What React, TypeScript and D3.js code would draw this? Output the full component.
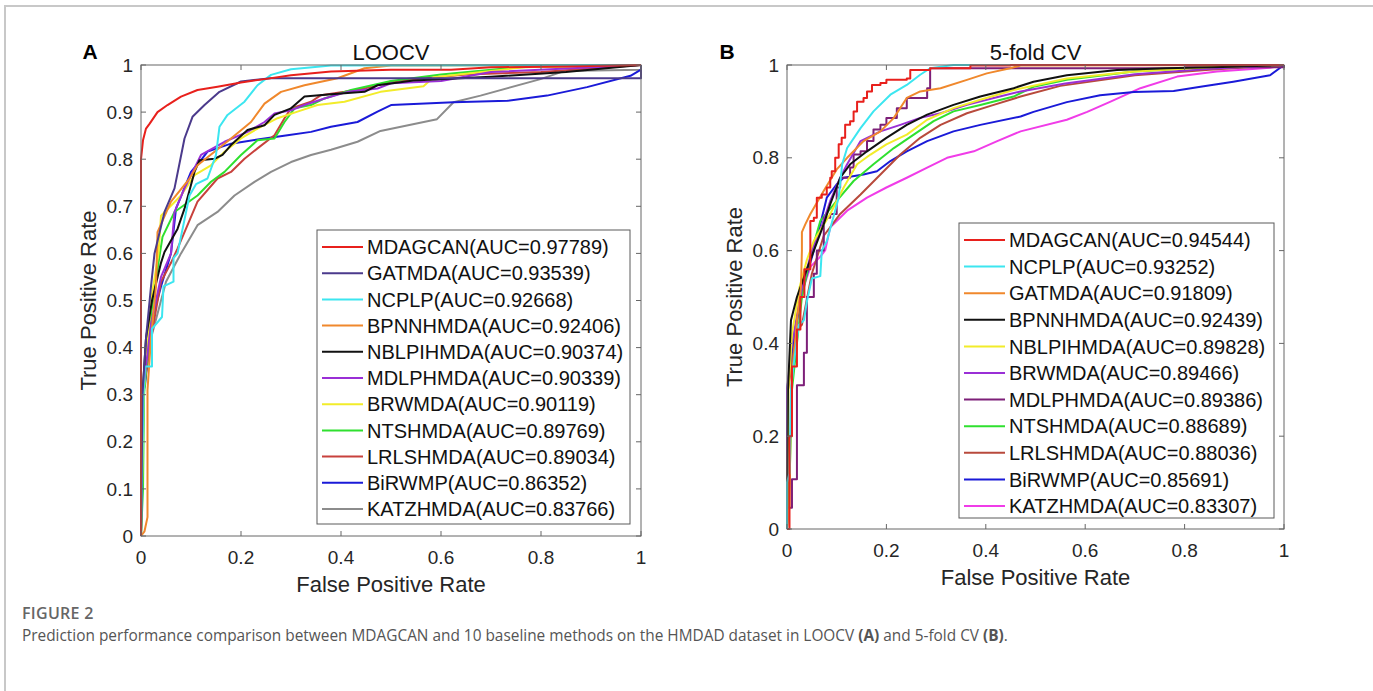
import React from 'react';
import * as d3 from 'd3';

type Pt = [number, number];

// ---- LOOCV (panel A), points are [FPR, TPR] ----
const loocvMDAGCAN: Pt[] = [[0,0],[0,0.8],[0.004,0.84],[0.01,0.865],[0.017,0.875],[0.033,0.9],[0.053,0.915],[0.08,0.933],[0.113,0.947],[0.153,0.954],[0.2,0.963],[0.247,0.97],[0.3,0.978],[0.38,0.986],[0.5,0.99],[0.62,0.99],[0.7,0.995],[0.85,0.997],[1,1]];
const loocvGATMDA: Pt[] = [[0,0],[0.003,0.3],[0.01,0.42],[0.02,0.53],[0.027,0.6],[0.047,0.688],[0.067,0.738],[0.087,0.844],[0.103,0.89],[0.127,0.915],[0.157,0.943],[0.2,0.965],[0.26,0.972],[1,0.972],[1,1]];
const loocvNCPLP: Pt[] = [[0,0],[0.005,0.3],[0.008,0.36],[0.022,0.36],[0.022,0.44],[0.042,0.465],[0.045,0.53],[0.065,0.54],[0.065,0.59],[0.073,0.6],[0.097,0.723],[0.11,0.747],[0.133,0.759],[0.15,0.809],[0.157,0.869],[0.173,0.894],[0.207,0.922],[0.233,0.957],[0.26,0.979],[0.3,0.991],[0.38,0.999],[1,1]];
const loocvBPNNHMDA: Pt[] = [[0,0],[0.007,0.01],[0.013,0.04],[0.013,0.31],[0.02,0.42],[0.03,0.53],[0.033,0.645],[0.06,0.71],[0.097,0.759],[0.113,0.787],[0.147,0.816],[0.18,0.844],[0.22,0.879],[0.247,0.918],[0.28,0.943],[0.327,0.957],[0.393,0.972],[0.447,0.993],[0.5,0.999],[1,1]];
const loocvNBLPIHMDA: Pt[] = [[0,0],[0.003,0.3],[0.01,0.42],[0.022,0.5],[0.04,0.58],[0.047,0.603],[0.073,0.652],[0.087,0.695],[0.107,0.773],[0.117,0.798],[0.147,0.801],[0.163,0.809],[0.18,0.83],[0.213,0.862],[0.247,0.872],[0.267,0.894],[0.3,0.908],[0.327,0.933],[0.38,0.938],[0.447,0.943],[0.473,0.957],[0.545,0.967],[0.7,0.975],[0.85,0.985],[1,1]];
const loocvMDLPHMDA: Pt[] = [[0,0],[0.002,0.29],[0.02,0.45],[0.04,0.55],[0.06,0.6],[0.067,0.688],[0.087,0.738],[0.12,0.809],[0.167,0.837],[0.213,0.858],[0.247,0.879],[0.267,0.897],[0.3,0.904],[0.327,0.915],[0.367,0.929],[0.413,0.943],[0.473,0.95],[0.5,0.961],[0.6,0.966],[0.7,0.985],[1,1]];
const loocvBRWMDA: Pt[] = [[0,0],[0.002,0.1],[0.005,0.3],[0.02,0.5],[0.035,0.6],[0.04,0.68],[0.08,0.723],[0.107,0.766],[0.14,0.787],[0.167,0.816],[0.2,0.844],[0.233,0.865],[0.273,0.887],[0.313,0.901],[0.353,0.915],[0.407,0.922],[0.479,0.943],[0.565,0.955],[0.585,0.974],[0.766,0.995],[1,1]];
const loocvNTSHMDA: Pt[] = [[0,0],[0.004,0.1],[0.006,0.3],[0.02,0.47],[0.035,0.58],[0.043,0.635],[0.067,0.688],[0.113,0.723],[0.14,0.752],[0.167,0.773],[0.2,0.809],[0.233,0.84],[0.267,0.844],[0.287,0.879],[0.307,0.908],[0.34,0.915],[0.367,0.929],[0.42,0.947],[0.5,0.966],[0.6,0.98],[0.75,0.995],[1,1]];
const loocvLRLSHMDA: Pt[] = [[0,0],[0.002,0.29],[0.02,0.42],[0.04,0.54],[0.06,0.58],[0.073,0.61],[0.113,0.71],[0.153,0.759],[0.18,0.773],[0.207,0.801],[0.233,0.823],[0.267,0.851],[0.287,0.887],[0.3,0.908],[0.34,0.922],[0.36,0.936],[0.407,0.943],[0.447,0.95],[0.5,0.965],[0.65,0.98],[0.8,0.985],[1,1]];
const loocvBiRWMP: Pt[] = [[0,0],[0,0.29],[0.008,0.32],[0.02,0.45],[0.04,0.53],[0.06,0.6],[0.07,0.695],[0.1,0.773],[0.12,0.798],[0.133,0.816],[0.18,0.833],[0.247,0.844],[0.293,0.851],[0.34,0.858],[0.38,0.869],[0.433,0.879],[0.473,0.901],[0.5,0.915],[0.625,0.921],[0.733,0.924],[0.812,0.935],[0.892,0.953],[0.979,0.977],[1,0.99],[1,1]];
const loocvKATZHMDA: Pt[] = [[0,0],[0.004,0.3],[0.02,0.42],[0.05,0.54],[0.07,0.58],[0.08,0.6],[0.113,0.66],[0.153,0.688],[0.187,0.723],[0.227,0.752],[0.26,0.773],[0.3,0.794],[0.34,0.809],[0.38,0.82],[0.433,0.837],[0.479,0.86],[0.592,0.885],[0.625,0.921],[0.679,0.935],[0.799,0.97],[0.846,0.987],[1,0.99],[1,1]];

const loocvNames = ['MDAGCAN', 'GATMDA', 'NCPLP', 'BPNNHMDA', 'NBLPIHMDA', 'MDLPHMDA', 'BRWMDA', 'NTSHMDA', 'LRLSHMDA', 'BiRWMP', 'KATZHMDA'];
const loocvAUC = ['0.97789', '0.93539', '0.92668', '0.92406', '0.90374', '0.90339', '0.90119', '0.89769', '0.89034', '0.86352', '0.83766'];
const loocvColors = ['#e8201c', '#4b3a8c', '#3ce6f0', '#f0882c', '#111111', '#9a2fd6', '#f2ec2a', '#2fe02f', '#c8413c', '#1a1ad8', '#8c8c8c'];
const loocvCurves = [loocvMDAGCAN, loocvGATMDA, loocvNCPLP, loocvBPNNHMDA, loocvNBLPIHMDA, loocvMDLPHMDA, loocvBRWMDA, loocvNTSHMDA, loocvLRLSHMDA, loocvBiRWMP, loocvKATZHMDA];

// ---- 5-fold CV (panel B) ----
const cvMDAGCAN: Pt[] = [[0,0],[0.005,0.2],[0.01,0.35],[0.02,0.43],[0.027,0.5],[0.035,0.56],[0.047,0.6],[0.047,0.664],[0.054,0.671],[0.06,0.714],[0.07,0.721],[0.08,0.736],[0.087,0.757],[0.09,0.771],[0.097,0.8],[0.104,0.829],[0.11,0.843],[0.117,0.871],[0.127,0.879],[0.134,0.9],[0.141,0.921],[0.154,0.929],[0.161,0.943],[0.171,0.957],[0.188,0.961],[0.2,0.968],[0.241,0.971],[0.248,0.989],[0.288,0.993],[0.369,0.993],[0.369,0.999],[0.45,1],[1,1]];
const cvNCPLP: Pt[] = [[0,0],[0,0.1],[0.005,0.12],[0.008,0.3],[0.014,0.36],[0.024,0.44],[0.034,0.45],[0.04,0.49],[0.05,0.54],[0.067,0.545],[0.07,0.6],[0.08,0.62],[0.104,0.714],[0.111,0.786],[0.121,0.821],[0.148,0.864],[0.174,0.9],[0.208,0.936],[0.241,0.957],[0.268,0.979],[0.288,0.993],[0.335,1],[1,1]];
const cvGATMDA: Pt[] = [[0,0],[0.005,0.05],[0.008,0.3],[0.02,0.45],[0.028,0.52],[0.03,0.6],[0.03,0.64],[0.037,0.657],[0.047,0.679],[0.074,0.729],[0.1,0.775],[0.121,0.8],[0.154,0.836],[0.188,0.857],[0.215,0.886],[0.241,0.929],[0.268,0.943],[0.309,0.95],[0.362,0.968],[0.402,0.982],[0.449,0.993],[0.47,0.999],[1,1]];
const cvBPNNHMDA: Pt[] = [[0,0],[0.002,0.3],[0.008,0.45],[0.02,0.5],[0.03,0.53],[0.04,0.56],[0.054,0.6],[0.074,0.657],[0.087,0.7],[0.107,0.757],[0.127,0.786],[0.161,0.814],[0.2,0.843],[0.241,0.871],[0.282,0.893],[0.335,0.914],[0.389,0.932],[0.456,0.95],[0.496,0.964],[0.563,0.978],[0.664,0.989],[0.764,0.993],[0.898,0.996],[1,1]];
const cvNBLPIHMDA: Pt[] = [[0,0],[0.003,0.3],[0.01,0.42],[0.025,0.52],[0.04,0.58],[0.054,0.621],[0.087,0.679],[0.114,0.736],[0.141,0.786],[0.168,0.807],[0.2,0.829],[0.241,0.85],[0.282,0.882],[0.335,0.907],[0.389,0.925],[0.456,0.946],[0.563,0.971],[0.698,0.986],[0.85,0.995],[1,1]];
const cvBRWMDA: Pt[] = [[0,0],[0,0.3],[0.01,0.4],[0.03,0.52],[0.05,0.6],[0.067,0.643],[0.087,0.707],[0.107,0.757],[0.121,0.786],[0.148,0.836],[0.188,0.857],[0.228,0.871],[0.268,0.886],[0.309,0.896],[0.362,0.914],[0.416,0.929],[0.47,0.943],[0.56,0.96],[0.7,0.98],[0.85,0.992],[1,1]];
const cvMDLPHMDA: Pt[] = [[0,0],[0,0.046],[0.01,0.046],[0.01,0.107],[0.02,0.107],[0.02,0.31],[0.034,0.31],[0.034,0.38],[0.04,0.5],[0.054,0.55],[0.06,0.6],[0.067,0.6],[0.074,0.671],[0.087,0.679],[0.1,0.736],[0.107,0.757],[0.127,0.779],[0.134,0.807],[0.148,0.814],[0.161,0.836],[0.174,0.861],[0.188,0.871],[0.2,0.886],[0.221,0.907],[0.241,0.911],[0.241,0.929],[0.261,0.929],[0.282,0.95],[0.288,0.95],[0.288,0.993],[0.8,0.995],[1,1]];
const cvNTSHMDA: Pt[] = [[0,0],[0.005,0.1],[0.01,0.3],[0.03,0.5],[0.05,0.6],[0.067,0.664],[0.1,0.707],[0.134,0.75],[0.174,0.786],[0.215,0.821],[0.255,0.85],[0.295,0.879],[0.335,0.9],[0.389,0.914],[0.456,0.932],[0.496,0.953],[0.563,0.968],[0.698,0.986],[0.832,0.994],[1,1]];
const cvLRLSHMDA: Pt[] = [[0,0],[0.002,0.3],[0.02,0.43],[0.03,0.44],[0.05,0.55],[0.074,0.632],[0.107,0.679],[0.148,0.721],[0.188,0.764],[0.228,0.807],[0.268,0.843],[0.309,0.871],[0.362,0.896],[0.416,0.914],[0.47,0.932],[0.55,0.955],[0.7,0.978],[0.85,0.99],[1,1]];
const cvBiRWMP: Pt[] = [[0,0],[0,0.3],[0.01,0.38],[0.02,0.45],[0.035,0.53],[0.054,0.6],[0.08,0.714],[0.1,0.743],[0.114,0.757],[0.154,0.764],[0.181,0.771],[0.208,0.793],[0.241,0.814],[0.282,0.836],[0.335,0.857],[0.389,0.871],[0.47,0.889],[0.496,0.899],[0.563,0.92],[0.63,0.935],[0.698,0.942],[0.778,0.944],[0.832,0.953],[0.898,0.964],[0.972,0.978],[1,1]];
const cvKATZHMDA: Pt[] = [[0,0],[0,0.293],[0.014,0.389],[0.027,0.5],[0.047,0.565],[0.067,0.587],[0.077,0.601],[0.087,0.65],[0.121,0.686],[0.161,0.714],[0.2,0.736],[0.241,0.757],[0.282,0.779],[0.322,0.8],[0.376,0.814],[0.423,0.836],[0.47,0.857],[0.563,0.882],[0.604,0.899],[0.651,0.921],[0.711,0.95],[0.785,0.975],[0.865,0.986],[0.972,0.994],[1,1]];

const cvNames = ['MDAGCAN', 'NCPLP', 'GATMDA', 'BPNNHMDA', 'NBLPIHMDA', 'BRWMDA', 'MDLPHMDA', 'NTSHMDA', 'LRLSHMDA', 'BiRWMP', 'KATZHMDA'];
const cvAUC = ['0.94544', '0.93252', '0.91809', '0.92439', '0.89828', '0.89466', '0.89386', '0.88689', '0.88036', '0.85691', '0.83307'];
const cvColors = ['#e8201c', '#3ce6f0', '#f0882c', '#111111', '#f2ec2a', '#9a2fd6', '#7d1f78', '#2fe02f', '#b84a3c', '#1a1ad8', '#f03ce8'];
const cvCurves = [cvMDAGCAN, cvNCPLP, cvGATMDA, cvBPNNHMDA, cvNBLPIHMDA, cvBRWMDA, cvMDLPHMDA, cvNTSHMDA, cvLRLSHMDA, cvBiRWMP, cvKATZHMDA];
const cvStepped = ['MDAGCAN', 'MDLPHMDA'];

const loocvYTicks = [0, 0.1, 0.2, 0.3, 0.4, 0.5, 0.6, 0.7, 0.8, 0.9, 1];
const cvYTicks = [0, 0.2, 0.4, 0.6, 0.8, 1];
const xTicks = [0, 0.2, 0.4, 0.6, 0.8, 1];

const FONT = '"Liberation Sans", Arial, sans-serif';

type PanelProps = {
  box: { left: number; right: number; top: number; bottom: number };
  legend: { x: number; y: number; w: number; h: number; row: number };
  letter: string;
  letterX: number;
  title: string;
  names: string[];
  aucs: string[];
  colors: string[];
  curves: Pt[][];
  stepped: string[];
  yTicks: number[];
};

function Panel(p: PanelProps) {
  const { box, legend } = p;
  const x = d3.scaleLinear().domain([0, 1]).range([box.left, box.right]);
  const y = d3.scaleLinear().domain([0, 1]).range([box.bottom, box.top]);
  const fmt = (d: number) => String(+d.toFixed(1));
  const tickLen = 5;
  const axisColor = '#666';

  // first legend entry drawn last so it sits on top
  const order = d3.range(p.curves.length).reverse();

  return (
    <g>
      <text x={p.letterX} y={59} fontFamily={FONT} fontWeight="bold" fontSize={21} textAnchor="middle">{p.letter}</text>
      <text x={(box.left + box.right) / 2} y={60} fontFamily={FONT} fontSize={22} textAnchor="middle" fill="#111">{p.title}</text>

      <g fill="none" strokeWidth={2} strokeLinejoin="round">
        {order.map(i => {
          const line = d3.line<Pt>()
            .x(d => x(d[0]))
            .y(d => y(d[1]))
            .curve(p.stepped.includes(p.names[i]) ? d3.curveStepAfter : d3.curveLinear);
          return <path key={p.names[i]} d={line(p.curves[i]) || ''} stroke={p.colors[i]} />;
        })}
      </g>

      <rect x={box.left} y={box.top} width={box.right - box.left} height={box.bottom - box.top} fill="none" stroke={axisColor} strokeWidth={1} />
      {xTicks.map(t => (
        <g key={'x' + t}>
          <line x1={x(t)} x2={x(t)} y1={box.bottom} y2={box.bottom - tickLen} stroke={axisColor} />
          <line x1={x(t)} x2={x(t)} y1={box.top} y2={box.top + tickLen} stroke={axisColor} />
          <text x={x(t)} y={box.bottom + 21} dy="0.35em" textAnchor="middle" fontFamily={FONT} fontSize={19} fill="#262626">{fmt(t)}</text>
        </g>
      ))}
      {p.yTicks.map(t => (
        <g key={'y' + t}>
          <line x1={box.left} x2={box.left + tickLen} y1={y(t)} y2={y(t)} stroke={axisColor} />
          <line x1={box.right} x2={box.right - tickLen} y1={y(t)} y2={y(t)} stroke={axisColor} />
          <text x={box.left - 8} y={y(t)} dy="0.35em" textAnchor="end" fontFamily={FONT} fontSize={19} fill="#262626">{fmt(t)}</text>
        </g>
      ))}

      <text x={(box.left + box.right) / 2} y={box.bottom + 56} textAnchor="middle" fontFamily={FONT} fontSize={22} fill="#262626">False Positive Rate</text>
      <text transform={`translate(${box.left - 53},${(box.top + box.bottom) / 2}) rotate(-90)`} dy="0.35em" textAnchor="middle" fontFamily={FONT} fontSize={22} fill="#262626">True Positive Rate</text>

      <rect x={legend.x} y={legend.y} width={legend.w} height={legend.h} fill="#fff" stroke="#5a5a5a" strokeWidth={1} />
      {p.names.map((n, i) => {
        const cy = legend.y + 17 + i * legend.row;
        return (
          <g key={'l' + n}>
            <line x1={legend.x + 5} x2={legend.x + 46} y1={cy} y2={cy} stroke={p.colors[i]} strokeWidth={2} />
            <text x={legend.x + 50} y={cy} dy="0.36em" fontFamily={FONT} fontSize={20} fill="#111">{`${n}(AUC=${p.aucs[i]})`}</text>
          </g>
        );
      })}
    </g>
  );
}

export default function App() {
  const W = 1373;
  const H = 691;
  return (
    <svg width={W} height={H} style={{ position: 'absolute', left: 0, top: 0, display: 'block', background: '#fff' }}>
      <rect width={W} height={H} fill="#fff" />
      <path d={`M5,${H} V6 H${W}`} fill="none" stroke="#c8c8c8" strokeWidth={2} />

      <Panel
        box={{ left: 141, right: 641, top: 65, bottom: 536 }}
        legend={{ x: 317, y: 230, w: 313, h: 294, row: 26.2 }}
        letter="A"
        letterX={90}
        title="LOOCV"
        names={loocvNames}
        aucs={loocvAUC}
        colors={loocvColors}
        curves={loocvCurves}
        stepped={[]}
        yTicks={loocvYTicks}
      />
      <Panel
        box={{ left: 787, right: 1284, top: 65, bottom: 529 }}
        legend={{ x: 959, y: 223, w: 315, h: 295, row: 26.6 }}
        letter="B"
        letterX={727}
        title="5-fold CV"
        names={cvNames}
        aucs={cvAUC}
        colors={cvColors}
        curves={cvCurves}
        stepped={cvStepped}
        yTicks={cvYTicks}
      />

      <text x={22} y={619} fontFamily='"Open Sans", sans-serif' fontSize={16} fontWeight={600} fill="#666" letterSpacing={0.3}>FIGURE 2</text>
      <text x={22} y={641} fontFamily='"Open Sans", sans-serif' fontSize={15.4} fill="#555">
        Prediction performance comparison between MDAGCAN and 10 baseline methods on the HMDAD dataset in LOOCV <tspan fontWeight="bold">(A)</tspan> and 5-fold CV <tspan fontWeight="bold">(B)</tspan>.
      </text>
    </svg>
  );
}
